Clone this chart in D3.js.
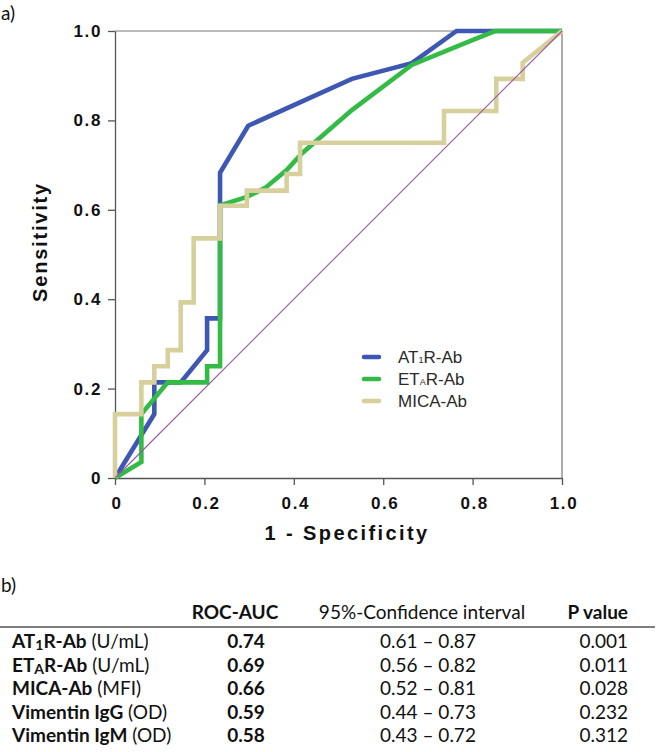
<!DOCTYPE html>
<html>
<head>
<meta charset="utf-8">
<script src="https://cdn.jsdelivr.net/npm/d3@7"></script>
<style>
  html, body { margin: 0; padding: 0; background: #fff; }
  svg { display: block; }
</style>
</head>
<body>
<div id="chart"></div>
<script>
// ---------------- data ----------------
const seriesNames = ["AT_1R-Ab", "ET_AR-Ab", "MICA-Ab"];
const seriesColors = ["#3d57b2", "#33bb45", "#d7d09c"];

const at1rFPR = [0, 0.088, 0.088, 0.147, 0.206, 0.206, 0.235, 0.235, 0.298, 0.530, 0.664, 0.764, 1];
const at1rTPR = [0, 0.143, 0.214, 0.214, 0.286, 0.357, 0.357, 0.683, 0.788, 0.893, 0.928, 1, 1];

const etarFPR = [0, 0.059, 0.059, 0.118, 0.206, 0.206, 0.235, 0.235, 0.295, 0.336, 0.384, 0.418, 0.530, 0.664, 0.783, 0.850, 1];
const etarTPR = [0, 0.036, 0.143, 0.214, 0.214, 0.250, 0.250, 0.610, 0.629, 0.649, 0.689, 0.726, 0.823, 0.924, 0.973, 1, 1];

const micaFPR = [0, 0, 0.059, 0.059, 0.088, 0.088, 0.118, 0.118, 0.147, 0.147, 0.176, 0.176, 0.235, 0.235, 0.295, 0.295, 0.384, 0.384, 0.414, 0.414, 0.736, 0.736, 0.853, 0.853, 0.912, 0.912, 1];
const micaTPR = [0, 0.143, 0.143, 0.214, 0.214, 0.250, 0.250, 0.286, 0.286, 0.393, 0.393, 0.536, 0.536, 0.609, 0.609, 0.643, 0.643, 0.680, 0.680, 0.750, 0.750, 0.821, 0.821, 0.893, 0.893, 0.929, 1];

const xTicks = [0, 0.2, 0.4, 0.6, 0.8, 1.0];
const yTicks = [0, 0.2, 0.4, 0.6, 0.8, 1.0];
const xTitle = "1 - Specificity";
const yTitle = "Sensitivity";

// table
const tableHeaders = ["ROC-AUC", "95%-Confidence interval", "P value"];
const rowNames = ["AT_1R-Ab", "ET_AR-Ab", "MICA-Ab", "Vimentin IgG", "Vimentin IgM"];
const rowUnits = ["(U/mL)", "(U/mL)", "(MFI)", "(OD)", "(OD)"];
const rocAuc = ["0.74", "0.69", "0.66", "0.59", "0.58"];
const ciLow = ["0.61", "0.56", "0.52", "0.44", "0.43"];
const ciHigh = ["0.87", "0.82", "0.81", "0.73", "0.72"];
const pValues = ["0.001", "0.011", "0.028", "0.232", "0.312"];

// ---------------- layout ----------------
const W = 657, H = 752;
const plot = { left: 115, top: 31, size: 447 };
const axisColor = "#555";
const tickFont = "'Liberation Sans', Arial, sans-serif";
const tableFont = "Lato, 'Open Sans', sans-serif";

const svg = d3.select("#chart").append("svg").attr("width", W).attr("height", H);

const x = d3.scaleLinear().domain([0, 1]).range([plot.left, plot.left + plot.size]);
const y = d3.scaleLinear().domain([0, 1]).range([plot.top + plot.size, plot.top]);

const fmt = d => d === 0 ? "0" : d.toFixed(1);

// panel labels
svg.append("text").attr("x", 1).attr("y", 20)
  .attr("font-family", tableFont).attr("font-size", 19).attr("fill", "#111").text("a)");
svg.append("text").attr("x", 1).attr("y", 592)
  .attr("font-family", tableFont).attr("font-size", 19).attr("fill", "#111").text("b)");

// frame (top and right)
svg.append("line").attr("x1", x(0)).attr("x2", x(1)).attr("y1", y(1)).attr("y2", y(1))
  .attr("stroke", "#777").attr("stroke-width", 1.2);
svg.append("line").attr("x1", x(1)).attr("x2", x(1)).attr("y1", y(0)).attr("y2", y(1))
  .attr("stroke", "#777").attr("stroke-width", 1.2);

// axes
const xAxis = svg.append("g").attr("transform", `translate(0,${y(0)})`)
  .call(d3.axisBottom(x).tickValues(xTicks).tickFormat(fmt).tickSize(7).tickSizeOuter(0).tickPadding(12));
const yAxis = svg.append("g").attr("transform", `translate(${x(0)},0)`)
  .call(d3.axisLeft(y).tickValues(yTicks).tickFormat(fmt).tickSize(7).tickSizeOuter(0).tickPadding(6));

[xAxis, yAxis].forEach(g => {
  g.select(".domain").attr("stroke", axisColor).attr("stroke-width", 1.3);
  g.selectAll(".tick line").attr("stroke", axisColor).attr("stroke-width", 1.3);
  g.selectAll(".tick text")
    .attr("font-family", tickFont).attr("font-weight", "bold")
    .attr("font-size", 17).attr("fill", "#111")
    .style("letter-spacing", "1.6px");
});
xAxis.selectAll(".tick text").attr("dx", "1.5");

// axis titles
svg.append("text")
  .attr("x", 347).attr("y", 540)
  .attr("text-anchor", "middle")
  .attr("font-family", tickFont).attr("font-weight", "bold").attr("font-size", 20)
  .attr("fill", "#111").style("letter-spacing", "2.4px")
  .text(xTitle);
svg.append("text")
  .attr("transform", "translate(47,242) rotate(-90)")
  .attr("text-anchor", "middle")
  .attr("font-family", tickFont).attr("font-weight", "bold").attr("font-size", 20)
  .attr("fill", "#111").style("letter-spacing", "1.8px")
  .text(yTitle);

// curves
const lineGen = d3.line().x(d => x(d[0])).y(d => y(d[1]));
const curves = [
  d3.zip(at1rFPR, at1rTPR),
  d3.zip(etarFPR, etarTPR),
  d3.zip(micaFPR, micaTPR)
];
curves.forEach((pts, i) => {
  svg.append("path")
    .datum(pts)
    .attr("d", lineGen)
    .attr("fill", "none")
    .attr("stroke", seriesColors[i])
    .attr("stroke-width", 4.6)
    .attr("stroke-linejoin", "miter")
    .attr("stroke-miterlimit", 3);
});

// reference diagonal
svg.append("path")
  .datum([[0, 0], [1, 1]])
  .attr("d", lineGen)
  .attr("fill", "none")
  .attr("stroke", "#9a52a3")
  .attr("stroke-width", 1.1);

// name with subscript helper ("_X" marks X as subscript)
function addName(textSel, name, subSize, subDy) {
  const parts = name.split(/_(.)/);
  parts.forEach((p, i) => {
    const t = textSel.append("tspan").text(p);
    if (i % 2 === 1) t.attr("font-size", subSize).attr("dy", subDy);
    else if (i > 0) t.attr("dy", -subDy);
  });
}

// legend
const legend = svg.append("g").attr("transform", "translate(364,357)");
seriesNames.forEach((name, i) => {
  const g = legend.append("g").attr("transform", `translate(0,${i * 22})`);
  g.append("line").attr("x1", 0).attr("x2", 15).attr("y1", 0).attr("y2", 0)
    .attr("stroke", seriesColors[i]).attr("stroke-width", 4.5).attr("stroke-linecap", "round");
  const t = g.append("text").attr("x", 34).attr("y", 5.5)
    .attr("font-family", tickFont).attr("font-size", 17).attr("fill", "#2a2a2a");
  addName(t, name, 9, 0.5);
});

// table
const tbl = svg.append("g");
const colROC = 235, colROCval = 246, colCI = 422, colCIval = 428, colP = 628;
const headerY = 619;
const rowY0 = 648, rowStep = 23.5;

tbl.append("text").attr("x", colROC).attr("y", headerY).attr("text-anchor", "middle")
  .attr("font-family", tableFont).attr("font-weight", "bold").attr("font-size", 19).attr("fill", "#111")
  .text(tableHeaders[0]);
tbl.append("text").attr("x", colCI).attr("y", headerY).attr("text-anchor", "middle")
  .attr("font-family", tableFont).attr("font-size", 19).attr("fill", "#111")
  .text(tableHeaders[1]);
tbl.append("text").attr("x", colP).attr("y", headerY).attr("text-anchor", "end")
  .attr("font-family", tableFont).attr("font-weight", "bold").attr("font-size", 19).attr("fill", "#111")
  .text(tableHeaders[2]);

tbl.append("line").attr("x1", 0).attr("x2", 655).attr("y1", 627).attr("y2", 627)
  .attr("stroke", "#555").attr("stroke-width", 1.4);

rowNames.forEach((name, i) => {
  const yy = rowY0 + i * rowStep;
  const t = tbl.append("text").attr("x", 12).attr("y", yy)
    .attr("font-family", tableFont).attr("font-size", 19).attr("fill", "#111");
  const nameSpan = t.append("tspan").attr("font-weight", "bold");
  addName(nameSpan, name, 14, 2);
  t.append("tspan").text(" " + rowUnits[i]);

  tbl.append("text").attr("x", colROCval).attr("y", yy).attr("text-anchor", "middle")
    .attr("font-family", tableFont).attr("font-weight", "bold").attr("font-size", 19).attr("fill", "#111")
    .text(rocAuc[i]);
  tbl.append("text").attr("x", colCIval).attr("y", yy).attr("text-anchor", "middle")
    .attr("font-family", tableFont).attr("font-size", 19).attr("fill", "#111")
    .text(ciLow[i] + " \u2013 " + ciHigh[i]);
  tbl.append("text").attr("x", colP).attr("y", yy).attr("text-anchor", "end")
    .attr("font-family", tableFont).attr("font-size", 19).attr("fill", "#111")
    .text(pValues[i]);
});
</script>
</body>
</html>
